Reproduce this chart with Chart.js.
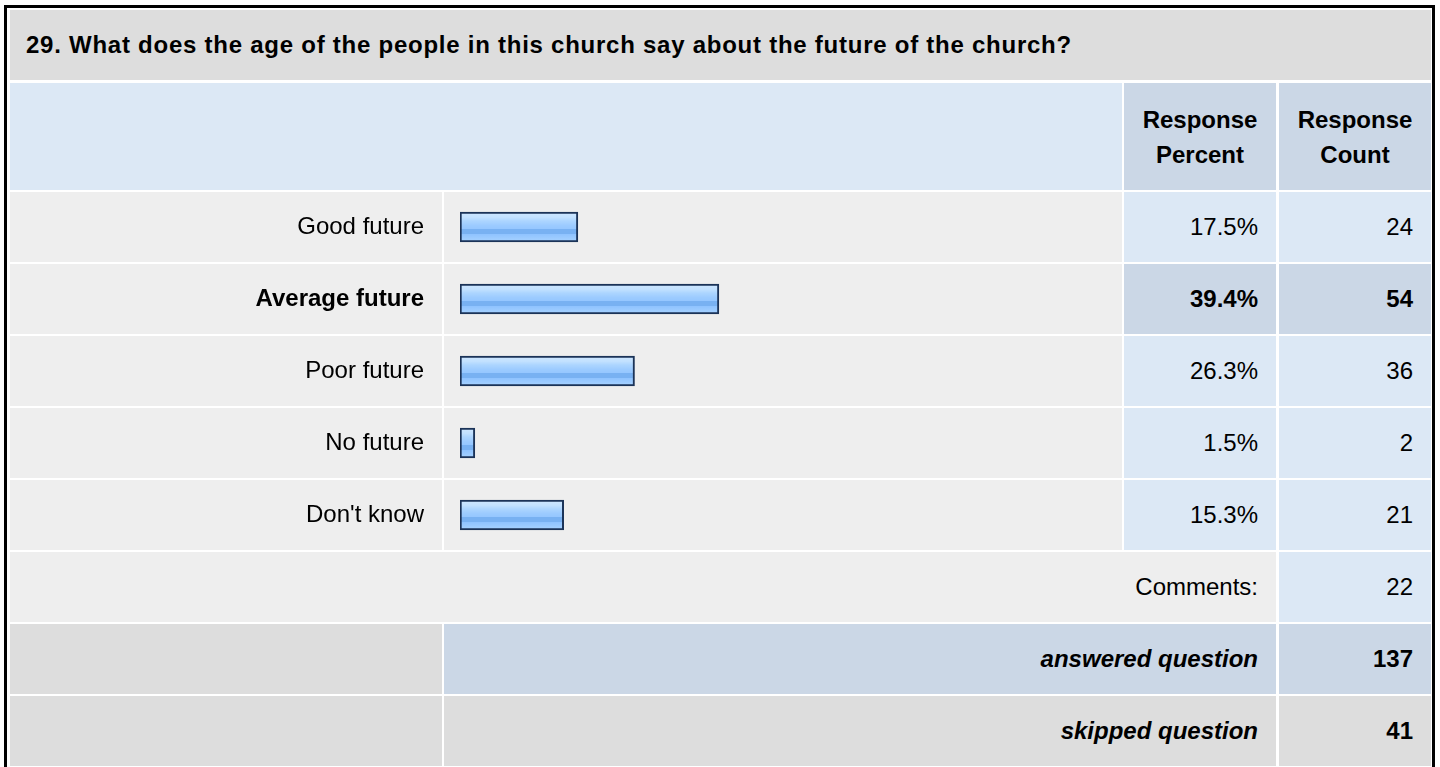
<!DOCTYPE html>
<html>
<head>
<meta charset="utf-8">
<script src="https://cdn.jsdelivr.net/npm/chart.js@4/dist/chart.umd.min.js"></script>
<style>
  html, body { margin: 0; padding: 0; background: #fff; width: 1440px; height: 767px; overflow: hidden; }
  body { position: relative; font-family: "Liberation Sans", Arial, sans-serif; color: #000; }
  #frame { position: absolute; left: 4px; top: 5px; width: 1425px; height: 800px; border: 3px solid #000; border-bottom: none; }
  .cell { position: absolute; box-sizing: border-box; display: flex; align-items: center; font-size: 24px; white-space: nowrap; }
  .r { justify-content: flex-end; padding-right: 18px; }
  .c { justify-content: center; text-align: center; }
  .b { font-weight: bold; }
  .bi { font-weight: bold; font-style: italic; }
  #chartBox { position: absolute; left: 10px; top: 191px; width: 1112px; height: 360px; }
  #chartBox canvas { display: block; }
</style>
</head>
<body>
<div id="frame"></div>
<div id="cells"></div>
<div id="chartBox"><canvas id="chart" width="1112" height="360"></canvas></div>
<script>
// ---- data ----
const questionTitle = "29. What does the age of the people in this church say about the future of the church?";
const headerLabels = ["Response<br>Percent", "Response<br>Count"];
const categories = ["Good future", "Average future", "Poor future", "No future", "Don't know"];
const responsePercent = [17.5, 39.4, 26.3, 1.5, 15.3];
const responseCount = [24, 54, 36, 2, 21];
const commentsLabel = "Comments:";
const commentsCount = 22;
const answeredLabel = "answered question";
const answeredCount = 137;
const skippedLabel = "skipped question";
const skippedCount = 41;

// ---- layout ----
const X0 = 10, X1 = 444, X2 = 1124, X3 = 1279, XR = 1431;
const ROW0 = 192, ROWSTEP = 72, ROWH = 70;
const highlight = responseCount.indexOf(Math.max(...responseCount));

const host = document.getElementById('cells');
function cell(x, y, w, h, bg, html, cls) {
  const d = document.createElement('div');
  d.className = 'cell ' + (cls || '');
  d.style.left = x + 'px'; d.style.top = y + 'px';
  d.style.width = w + 'px'; d.style.height = h + 'px';
  d.style.background = bg;
  if (html != null) d.innerHTML = html;
  host.appendChild(d);
  return d;
}

// title
const t = cell(X0, 10, XR - X0, 70, '#dddddd', questionTitle, 'b');
t.style.paddingLeft = '16px'; t.style.letterSpacing = '0.75px';
// header
cell(X0, 83, X2 - 2 - X0, 107, '#dce8f5', null);
const h1 = cell(X2, 83, X3 - 3 - X2, 107, '#cbd7e6', headerLabels[0], 'c b');
const h2 = cell(X3, 83, XR - X3, 107, '#cbd7e6', headerLabels[1], 'c b');
h1.style.lineHeight = h2.style.lineHeight = '35px';

// category rows
categories.forEach((c, i) => {
  const y = ROW0 + ROWSTEP * i;
  const hl = i === highlight;
  cell(X0, y, X1 - 2 - X0, ROWH, '#eeeeee', null);
  cell(X1, y, X2 - 2 - X1, ROWH, '#eeeeee', null);
  cell(X2, y, X3 - 3 - X2, ROWH, hl ? '#cbd7e6' : '#dce8f5', responsePercent[i].toFixed(1) + '%', 'r' + (hl ? ' b' : ''));
  cell(X3, y, XR - X3, ROWH, hl ? '#cbd7e6' : '#dce8f5', String(responseCount[i]), 'r' + (hl ? ' b' : ''));
});
// comments
let y = ROW0 + ROWSTEP * categories.length;
cell(X0, y, X3 - 3 - X0, ROWH, '#eeeeee', commentsLabel, 'r');
cell(X3, y, XR - X3, ROWH, '#dce8f5', String(commentsCount), 'r');
// answered
y += ROWSTEP;
cell(X0, y, X1 - 2 - X0, ROWH, '#dddddd', null);
cell(X1, y, X3 - 3 - X1, ROWH, '#cbd7e6', answeredLabel, 'r bi');
cell(X3, y, XR - X3, ROWH, '#cbd7e6', String(answeredCount), 'r b');
// skipped
y += ROWSTEP;
cell(X0, y, X1 - 2 - X0, ROWH, '#dddddd', null);
cell(X1, y, X3 - 3 - X1, ROWH, '#dddddd', skippedLabel, 'r bi');
cell(X3, y, XR - X3, ROWH, '#dddddd', String(skippedCount), 'r b');

// ---- chart ----
function barFill(c) {
  const chart = c.chart;
  const ys = chart.scales && chart.scales.y;
  if (!ys || c.dataIndex == null || !isFinite(ys.getPixelForValue(c.dataIndex))) return '#9ccbff';
  const yc = ys.getPixelForValue(c.dataIndex);
  const g = chart.ctx.createLinearGradient(0, yc - 15, 0, yc + 15);
  g.addColorStop(0.00, '#cfe7ff');
  g.addColorStop(0.18, '#c2e1ff');
  g.addColorStop(0.30, '#acd5ff');
  g.addColorStop(0.45, '#9ccbff');
  g.addColorStop(0.55, '#96c7ff');
  g.addColorStop(0.57, '#78b1f2');
  g.addColorStop(0.72, '#78b1f2');
  g.addColorStop(0.74, '#8fc3ff');
  g.addColorStop(1.00, '#a8d3ff');
  return g;
}

new Chart(document.getElementById('chart'), {
  type: 'bar',
  data: {
    labels: categories,
    datasets: [{
      data: responsePercent,
      base: -0.8,
      barThickness: 30,
      borderWidth: 2,
      borderSkipped: false,
      borderColor: '#1b3358',
      backgroundColor: barFill
    }]
  },
  options: {
    indexAxis: 'y',
    responsive: false,
    animation: false,
    events: [],
    layout: { padding: 0, autoPadding: false },
    plugins: { legend: { display: false }, tooltip: { enabled: false } },
    scales: {
      x: { display: false, min: -0.8, max: 102 },
      y: {
        grid: { display: false, drawTicks: false },
        border: { display: false },
        ticks: {
          padding: 36,
          color: '#000',
          font: (ctx) => ({ family: '"Liberation Sans", Arial, sans-serif', size: 24, weight: ctx.index === highlight ? 'bold' : 'normal' })
        },
        afterFit: (s) => { s.width = 450; s.paddingTop = 0; s.paddingBottom = 0; }
      }
    }
  }
});
</script>
</body>
</html>
